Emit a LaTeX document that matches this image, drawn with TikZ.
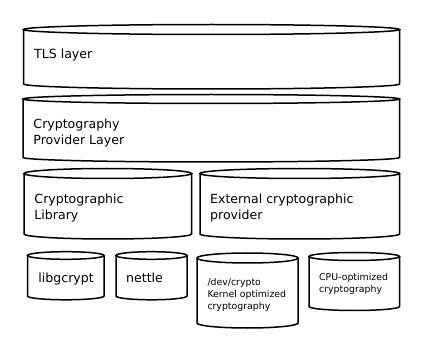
\documentclass[tikz,border=0pt]{standalone}
\usepackage{fontspec}
\setmainfont{DejaVu Sans}
\usetikzlibrary{positioning}

\tikzset{
  cylline/.style={line width=1.5bp,black},
  biglbl/.style={anchor=base west,inner sep=0pt,align=left,font=\fontsize{12.6}{15.5}\selectfont},
  smalllbl/.style={anchor=base west,inner sep=0pt,align=left,font=\fontsize{9.4}{11.9}\selectfont}
}

\begin{document}
\begin{tikzpicture}[x=1bp,y=1bp]
  \useasboundingbox (0,0) rectangle (423,353);
  % stacked cylinders: name/left/right/top centre/side end/end radius (y measured from top)
  \foreach \nm/\xa/\xb/\yt/\yb/\ry in {tls/23.5/399.5/29.5/84/5, prov/23/399.5/99/157.5/4.5,
      lib/24/191.5/173.5/234/5, ext/200/399.5/173.5/234/5,
      gcrypt/27.5/104/255.5/296/3.8, nettle/116/187/255.5/296/3.8,
      devcrypto/197/298/258/323/5, cpuopt/309/399.5/256.5/306.5/4}{
    \pgfmathsetmacro{\rx}{(\xb-\xa)/2}
    \pgfmathsetmacro{\cx}{(\xa+\xb)/2}
    \pgfmathsetmacro{\Yt}{353-\yt}
    \pgfmathsetmacro{\Yb}{353-\yb}
    \coordinate (\nm) at (\cx,\Yt);
    \draw[cylline] (\nm) ellipse[x radius=\rx bp,y radius=\ry bp];
    \draw[cylline] (\xa,\Yt) -- (\xa,\Yb) arc[start angle=180,end angle=360,x radius=\rx bp,y radius=\ry bp] -- (\xb,\Yt);}
  % labels (base = last line)
  \node[biglbl] (tlslbl) at (34,295) {TLS layer};
  \node[biglbl] (provlbl) at (33.3,209) {Cryptography\\Provider Layer};
  \node[biglbl] (liblbl) at (34.3,133.7) {Cryptographic\\Library};
  \node[biglbl] (extlbl) at (210,133.7) {External cryptographic\\provider};
  \node[biglbl] (gcryptlbl) at (38.3,70.3) {libgcrypt};
  \node[biglbl] (nettlelbl) at (126,70.3) {nettle};
  \node[smalllbl] (devcryptolbl) at (207.3,44) {/dev/crypto\\Kernel optimized\\cryptography};
  \node[smalllbl] (cpuoptlbl) at (319,60.7) {CPU-optimized\\cryptography};
\end{tikzpicture}
\end{document}
